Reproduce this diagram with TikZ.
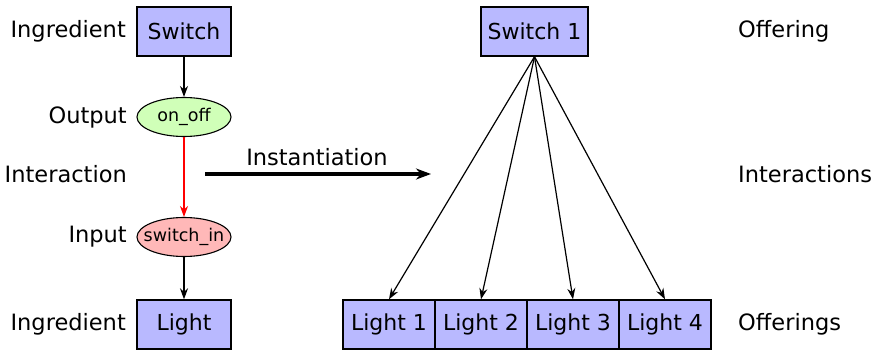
\documentclass[tikz,border=0pt]{standalone}
\usepackage{fontspec}
\setmainfont{DejaVu Sans}
\usetikzlibrary{arrows.meta,shapes.geometric}
\definecolor{boxblue}{RGB}{185,185,255}
\definecolor{outgreen}{RGB}{208,255,184}
\definecolor{inred}{RGB}{255,184,184}
\tikzset{
  ing/.style={draw=black,line width=1.4pt,fill=boxblue,minimum width=94pt,minimum height=49pt,inner sep=0pt,font=\fontsize{22}{24}\selectfont},
  port/.style={ellipse,draw=black,line width=1.1pt,minimum width=94pt,minimum height=39pt,inner xsep=-12pt,inner ysep=0pt,font=\fontsize{17.5}{20}\selectfont},
  lbl/.style={font=\fontsize{22.5}{24}\selectfont,inner sep=0pt},
  conn/.style={-{Stealth[length=11pt,width=8pt]},line width=1.2pt},
}
\begin{document}
\begin{tikzpicture}[x=1pt,y=-1pt]
\useasboundingbox (0,0) rectangle (873,350);
% left column
\node[ing] (sw) at (184,31.5) {Switch};
\node[port,fill=outgreen] (oo) at (184,117) {on\_off};
\node[port,fill=inred] (si) at (184,237) {switch\_in};
\node[ing] (li) at (184,324.5) {Light};
\node[lbl,anchor=east] (l1) at (126,31) {Ingredient};
\node[lbl,anchor=east] (l2) at (127,117) {Output};
\node[lbl,anchor=east] (l3) at (127,174) {Interaction};
\node[lbl,anchor=east] (l4) at (127,237) {Input};
\node[lbl,anchor=east] (l5) at (126,324) {Ingredient};
\draw[conn] (sw) -- (oo);
\draw[conn,red] (oo) -- (si);
\draw[conn] (si) -- (li);
% instantiation
\coordinate (ia) at (205,174);
\coordinate (ib) at (431,174);
\draw[-{Stealth[length=15pt,width=11pt]},line width=3.2pt] (ia) -- (ib)
  node[lbl,midway,above=7pt,xshift=-1pt] (inst) {Instantiation};
% right
\node[ing,minimum width=107pt] (s1) at (534.5,31.5) {Switch 1};
\node[ing,minimum width=92pt] (a1) at (389,324.5) {Light 1};
\node[ing,minimum width=92pt] (a2) at (481,324.5) {Light 2};
\node[ing,minimum width=92pt] (a3) at (573,324.5) {Light 3};
\node[ing,minimum width=92pt] (a4) at (665,324.5) {Light 4};
\foreach \t in {a1,a2,a3,a4}{\draw[conn] (s1.south) -- (\t.north);}
\node[lbl,anchor=west] (r1) at (738,31) {Offering};
\node[lbl,anchor=west] (r2) at (738,174) {Interactions};
\node[lbl,anchor=west] (r3) at (738,324) {Offerings};
\end{tikzpicture}
\end{document}
